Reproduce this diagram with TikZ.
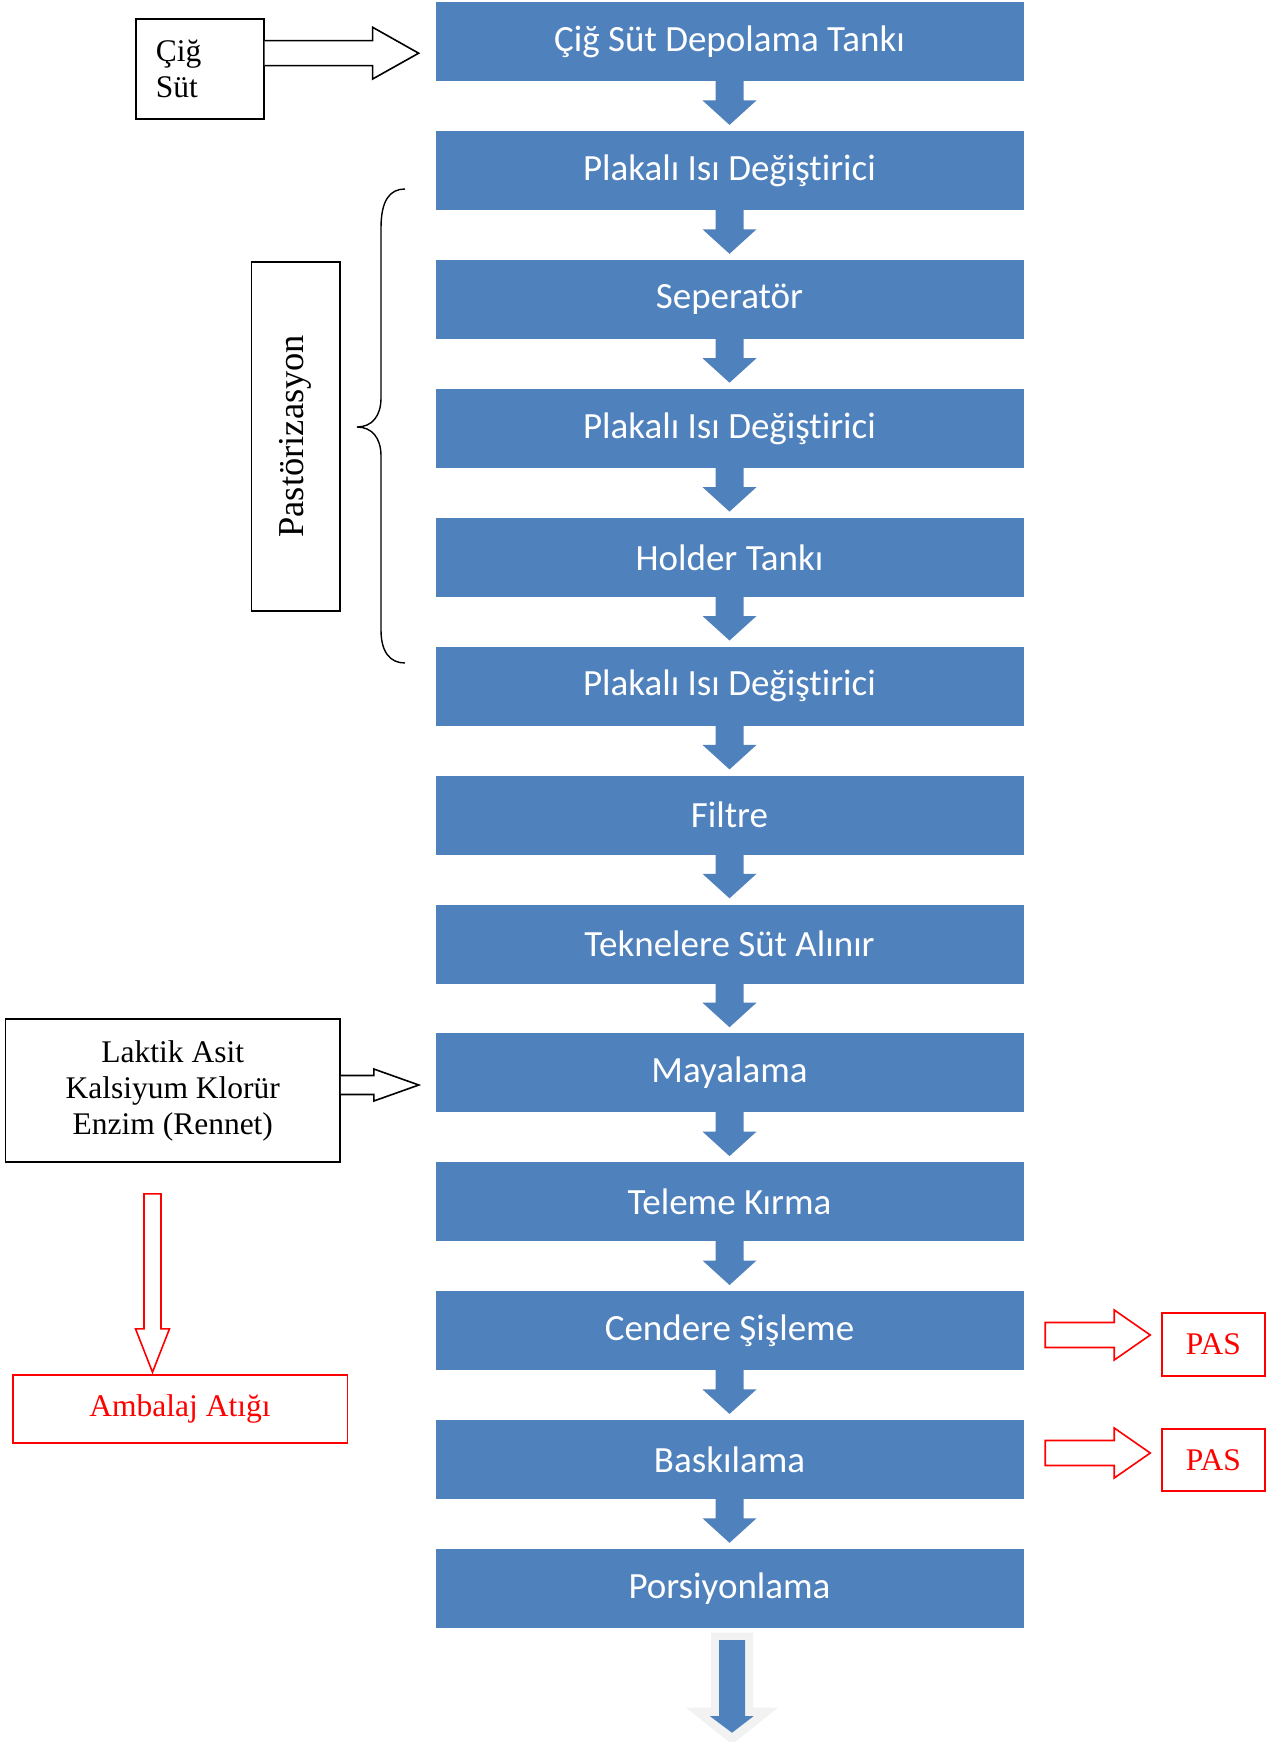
\documentclass[tikz,border=0pt]{standalone}
\usepackage{fontspec}
\setmainfont{Liberation Serif}
\newfontfamily\calibri[RawFeature=-liga, RawFeature=-clig, RawFeature=-dlig, RawFeature=-calt]{Carlito}
\usetikzlibrary{calc}
\definecolor{flowblue}{HTML}{4F81BD}
\definecolor{pasred}{HTML}{FF0000}
\definecolor{glowgray}{HTML}{F2F2F2}
\tikzset{
 stepbox/.style={fill=flowblue, minimum width=588, minimum height=79, inner sep=0, font=\calibri\fontsize{37}{44}\selectfont, text=white},
 blackbox/.style={draw=black, line width=1.6, font=\fontsize{31.5}{36}\selectfont, inner sep=0},
 redbox/.style={draw=pasred, line width=1.6, text=pasred, font=\fontsize{31.5}{36}\selectfont, inner sep=0},
 flowarrow/.style={fill=flowblue},
 glowarrow/.style={fill=glowgray},
 hollowarrow/.style={draw=black, fill=white, line width=1.6, line join=miter},
 redarrow/.style={draw=pasred, fill=white, line width=1.6, line join=miter},
 bracestyle/.style={draw=black, line width=1.4},
}
\begin{document}
\begin{tikzpicture}[x=1pt,y=-1pt]
\useasboundingbox[fill=white] (0,0) rectangle (1269,1742);

% main flow boxes
\node[stepbox] (b1)  at (729.5,41.7)   {Çiğ Süt Depolama Tankı};
\node[stepbox] (b2)  at (729.5,170.6)  {Plakalı Isı Değiştirici};
\node[stepbox] (b3)  at (729.5,299.5)  {Seperatör};
\node[stepbox] (b4)  at (729.5,428.4)  {Plakalı Isı Değiştirici};
\node[stepbox] (b5)  at (729.5,557.3)  {Holder Tankı};
\node[stepbox] (b6)  at (729.5,686.2)  {Plakalı Isı Değiştirici};
\node[stepbox] (b7)  at (729.5,815.1)  {Filtre};
\node[stepbox] (b8)  at (729.5,944.0)  {Teknelere Süt Alınır};
\node[stepbox] (b9)  at (729.5,1072.9) {Mayalama};
\node[stepbox] (b10) at (729.5,1201.8) {Teleme Kırma};
\node[stepbox] (b11) at (729.5,1330.7) {Cendere Şişleme};
\node[stepbox] (b12) at (729.5,1459.6) {Baskılama};
\node[stepbox] (b13) at (729.5,1588.5) {Porsiyonlama};

% down arrows between boxes
\foreach \i in {1,...,12} {
  \pgfmathtruncatemacro\j{\i+1}
  \fill[flowarrow] ($(b\i.south)+(-14,-1)$) -- ($(b\i.south)+(-14,19)$) -- ($(b\i.south)+(-27,19)$)
    -- ($(b\j.north)+(0,-6)$) -- ($(b\i.south)+(27,19)$) -- ($(b\i.south)+(14,19)$)
    -- ($(b\i.south)+(14,-1)$) -- cycle;
}

% final arrow with glow
\coordinate (endtip) at ($(b13.south)+(2.5,104.5)$);
\fill[glowarrow] ($(b13.south)+(-18.5,4.5)$) -- ($(b13.south)+(-18.5,79.5)$) -- ($(b13.south)+(-43.5,79.5)$)
  -- ($(b13.south)+(2.5,116)$) -- ($(b13.south)+(48.5,79.5)$) -- ($(b13.south)+(23.5,79.5)$)
  -- ($(b13.south)+(23.5,4.5)$) -- cycle;
\fill[flowarrow] ($(b13.south)+(-10.5,12)$) -- ($(b13.south)+(-10.5,88)$) -- ($(b13.south)+(-19.5,88)$)
  -- (endtip) -- ($(b13.south)+(24,88)$) -- ($(b13.south)+(15.5,88)$)
  -- ($(b13.south)+(15.5,12)$) -- cycle;

% raw milk input
\node[blackbox, minimum width=128, minimum height=100, text width=88, inner xsep=20, align=left] (cig) at (199.85,69) {Çiğ\\Süt};
\draw[hollowarrow] ($(cig.east)+(0,-28.3)$) -- ($(cig.east)+(108,-28.3)$) -- ($(cig.east)+(108,-41.7)$)
  -- ($(cig.east)+(154,-15.8)$) -- ($(cig.east)+(108,10)$) -- ($(cig.east)+(108,-3.3)$)
  -- ($(cig.east)+(0,-3.3)$);

% pasteurization label and brace
\node[blackbox, rotate=90, minimum width=349, minimum height=88.3, font=\fontsize{36.5}{40}\selectfont] (past) at (295.8,436.2) {Pastörizasyon};
\draw[bracestyle] (405,189) .. controls (390,189) and (381,200) .. (381,228) -- (381,398)
  .. controls (381,416) and (372,427) .. (357,427)
  .. controls (372,427) and (381,438) .. (381,456) -- (381,630)
  .. controls (381,652) and (390,663) .. (405,663);

% additives
\node[blackbox, minimum width=334.4, minimum height=143, align=center] (lak) at (172.8,1090.5) {Laktik Asit\\Kalsiyum Klorür\\Enzim (Rennet)};
\draw[hollowarrow] ($(lak.east)+(0,-15)$) -- ($(lak.east)+(33,-15)$) -- ($(lak.east)+(33,-21.5)$)
  -- ($(lak.east)+(78,-5.5)$) -- ($(lak.east)+(33,10.5)$) -- ($(lak.east)+(33,4)$)
  -- ($(lak.east)+(0,4)$);

% packaging waste
\node[redbox, minimum width=334.6, minimum height=68] (amb) at (180,1409) {Ambalaj Atığı};
\draw[redarrow] ($(lak.south)+(-28.8,31)$) -- ($(lak.south)+(-28.8,166)$) -- ($(lak.south)+(-37.3,166)$)
  -- ($(amb.north)+(-27.5,-2)$) -- ($(lak.south)+(-3.3,166)$) -- ($(lak.south)+(-11.8,166)$)
  -- ($(lak.south)+(-11.8,31)$) -- cycle;

% PAS outputs
\node[redbox, minimum width=103.3, minimum height=62.7] (pasA) at (1213.4,1344.4) {PAS};
\node[redbox, minimum width=103.3, minimum height=62] (pasB) at (1213.4,1460) {PAS};
\draw[redarrow] ($(pasA.west)+(-115.7,-21.9)$) -- ($(pasA.west)+(-46.7,-21.9)$) -- ($(pasA.west)+(-46.7,-34.4)$)
  -- ($(pasA.west)+(-10.7,-9.4)$) -- ($(pasA.west)+(-46.7,15.6)$) -- ($(pasA.west)+(-46.7,3.1)$)
  -- ($(pasA.west)+(-115.7,3.1)$) -- cycle;
\draw[redarrow] ($(pasB.west)+(-115.7,-19.5)$) -- ($(pasB.west)+(-46.7,-19.5)$) -- ($(pasB.west)+(-46.7,-32)$)
  -- ($(pasB.west)+(-10.7,-7)$) -- ($(pasB.west)+(-46.7,18)$) -- ($(pasB.west)+(-46.7,5.5)$)
  -- ($(pasB.west)+(-115.7,5.5)$) -- cycle;
\end{tikzpicture}
\end{document}
